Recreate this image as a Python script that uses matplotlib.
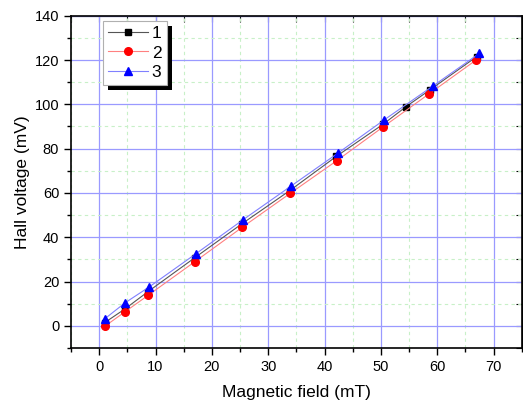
import matplotlib.pyplot as plt
from matplotlib.ticker import MultipleLocator
from matplotlib.patches import Rectangle

plt.rcParams['font.family'] = ['Liberation Sans', 'DejaVu Sans']

# data
x1 = [1.0, 4.5, 8.7, 17.0, 25.3, 33.8, 42.1, 50.4, 54.5, 58.7, 67.0]
y1 = [1.5, 7.5, 15.5, 30.8, 46.0, 61.0, 76.5, 91.0, 99.0, 106.5, 121.5]
x2 = [1.0, 4.5, 8.7, 17.0, 25.4, 33.9, 42.2, 50.4, 58.6, 66.9]
y2 = [-0.2, 6.2, 13.8, 29.0, 44.5, 59.8, 74.6, 89.8, 104.8, 120.0]
x3 = [1.0, 4.6, 8.9, 17.2, 25.6, 34.0, 42.4, 50.6, 59.2, 67.5]
y3 = [3.2, 10.4, 17.6, 32.6, 48.0, 63.0, 78.0, 93.0, 108.2, 123.0]
labels = ['1', '2', '3']

fig = plt.figure(figsize=(5.23, 4.01), dpi=100)
ax = fig.add_axes([0.1358, 0.1322, 0.9975 - 0.1358, 0.9608 - 0.1322])

ax.plot(x1, y1, color='#555555', lw=0.8, marker='s', ms=4.8,
        mfc='black', mec='black', label=labels[0])
ax.plot(x2, y2, color='#ff8080', lw=0.8, marker='o', ms=5.5,
        mfc='red', mec='red', label=labels[1])
ax.plot(x3, y3, color='#8080ff', lw=0.8, marker='^', ms=6,
        mfc='blue', mec='blue', label=labels[2])

ax.set_xlim(-5, 75)
ax.set_ylim(-10, 140)
ax.xaxis.set_major_locator(MultipleLocator(10))
ax.xaxis.set_minor_locator(MultipleLocator(5))
ax.yaxis.set_major_locator(MultipleLocator(20))
ax.yaxis.set_minor_locator(MultipleLocator(10))

ax.grid(which='major', color='#9a9aff', lw=0.9)
ax.grid(which='minor', color='#c8f0c8', lw=0.8, ls=(0, (3, 3)))
ax.set_axisbelow(True)

ax.tick_params(which='both', direction='out', top=False, right=False,
               labelsize=10.5, width=1)
ax.tick_params(which='major', length=5)
ax.tick_params(which='minor', length=3)
sec_x = ax.secondary_xaxis('top')
sec_x.set_xticks(range(-5, 76, 5))
sec_x.tick_params(direction='in', length=4, labeltop=False)
sec_x.set_xticklabels([])
sec_y = ax.secondary_yaxis('right')
sec_y.set_yticks(range(-10, 141, 10))
sec_y.tick_params(direction='in', length=4)
sec_y.set_yticklabels([])

for s in ax.spines.values():
    s.set_linewidth(1.2)

ax.set_xlabel('Magnetic field (mT)', fontsize=12.5, labelpad=8)
ax.set_ylabel('Hall voltage (mV)', fontsize=12.5, labelpad=3)

leg = ax.legend(loc='upper left', bbox_to_anchor=(0.071, 0.985), fontsize=12.5,
                frameon=True, shadow=False, fancybox=False, edgecolor='#b0b0b0',
                framealpha=1, handlelength=2.3, borderpad=0.3, labelspacing=0.25,
                handletextpad=0.2, borderaxespad=0)
leg.get_frame().set_linewidth(0.8)
leg.set_zorder(6)

# solid black drop shadow behind the legend, like the reference
fig.canvas.draw()
bb = leg.get_window_extent()
shadow = Rectangle((bb.x0 + 5, bb.y0 - 5), bb.width, bb.height,
                   transform=None, facecolor='black', edgecolor='none', zorder=5.9)
ax.add_artist(shadow)

fig.savefig('out.png', dpi=100)
